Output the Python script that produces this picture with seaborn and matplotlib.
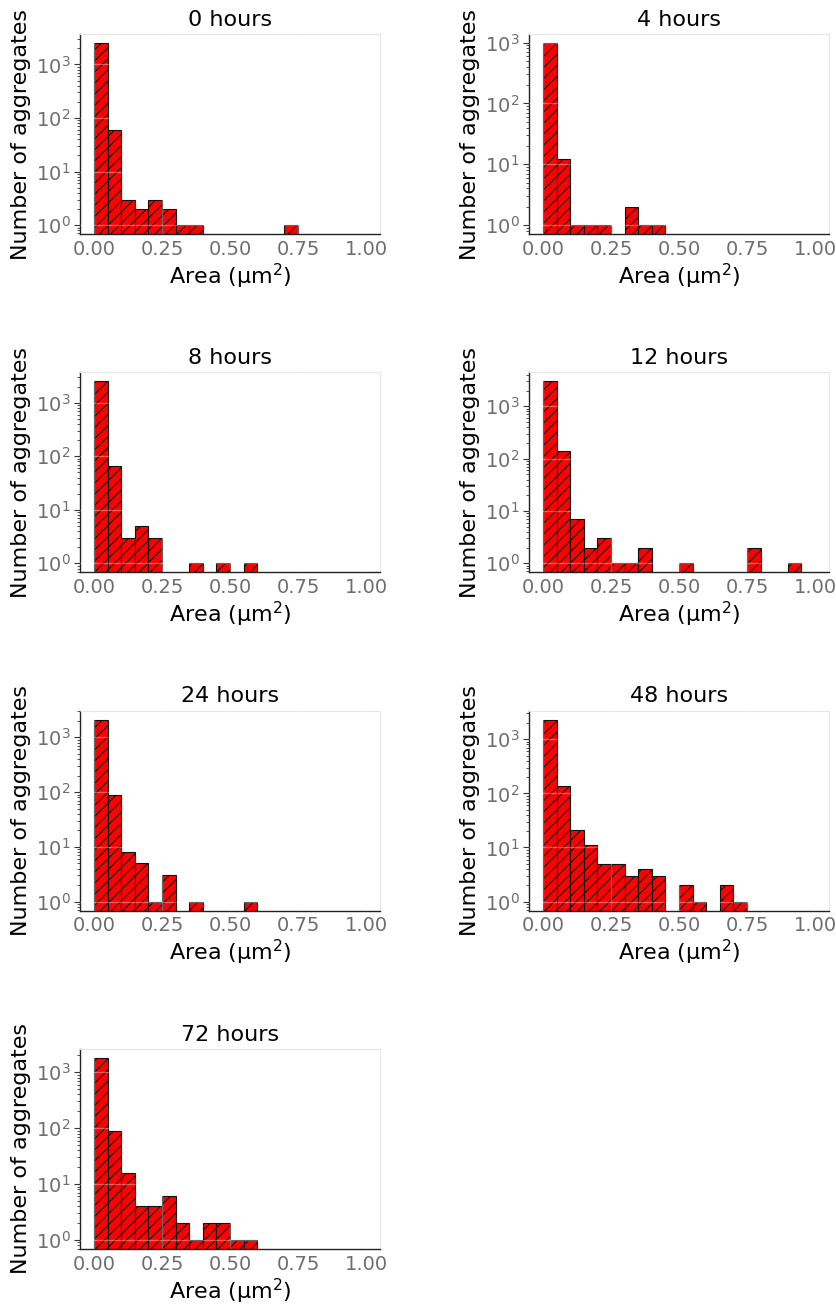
import numpy as np
import pandas as pd
import matplotlib
matplotlib.use("Agg")
import matplotlib.pyplot as plt
import seaborn as sns

sns.set_style("white")
plt.rcParams['font.family'] = ['DejaVu Sans']
plt.rcParams['hatch.linewidth'] = 0.8

bin_edges = [i * 0.05 for i in range(21)]
titles = ["0 hours", "4 hours", "8 hours", "12 hours", "24 hours", "48 hours", "72 hours"]

counts_0h = [2500, 59, 3, 2, 3, 2, 1, 1, 0, 0, 0, 0, 0, 0, 1, 0, 0, 0, 0, 0]
counts_4h = [980, 12, 1, 1, 1, 0, 2, 1, 1, 0, 0, 0, 0, 0, 0, 0, 0, 0, 0, 0]
counts_8h = [2500, 67, 3, 5, 3, 0, 0, 1, 0, 1, 0, 1, 0, 0, 0, 0, 0, 0, 0, 0]
counts_12h = [3000, 140, 7, 2, 3, 1, 1, 2, 0, 0, 1, 0, 0, 0, 0, 2, 0, 0, 1, 0]
counts_24h = [2100, 90, 8, 5, 1, 3, 0, 1, 0, 0, 0, 1, 0, 0, 0, 0, 0, 0, 0, 0]
counts_48h = [2300, 135, 21, 11, 5, 5, 3, 4, 3, 0, 2, 1, 0, 2, 1, 0, 0, 0, 0, 0]
counts_72h = [1800, 90, 16, 4, 4, 6, 2, 1, 2, 2, 1, 1, 0, 0, 0, 0, 0, 0, 0, 0]

all_counts = [counts_0h, counts_4h, counts_8h, counts_12h, counts_24h, counts_48h, counts_72h]

fig, axes = plt.subplots(4, 2, figsize=(8.37, 13.06), dpi=100)
fig.subplots_adjust(left=80/837, right=829/837, top=1-34/1306, bottom=1-1249/1306,
                    wspace=0.497, hspace=0.69)

centers = [(bin_edges[i] + bin_edges[i + 1]) / 2 for i in range(20)]

for idx, (title, counts) in enumerate(zip(titles, all_counts)):
    ax = axes.flat[idx]
    df = pd.DataFrame({"area": centers, "n": counts})
    sns.histplot(data=df, x="area", weights="n", bins=bin_edges, ax=ax,
                 color="red", edgecolor="#111111", linewidth=0.8, alpha=1.0)
    for p in ax.patches:
        p.set_hatch("///")
    ax.set_yscale("log")
    ax.set_xlim(-0.0515, 1.0515)
    ax.set_title(title, fontsize=16, pad=6, color="black")
    ax.set_xlabel("Area (\u00b5m$^2$)", fontsize=16, color="black", labelpad=2)
    ax.set_ylabel("Number of aggregates", fontsize=16, color="black", labelpad=3)
    ax.set_xticks([0, 0.25, 0.5, 0.75, 1.0])
    ax.set_xticklabels(["0.00", "0.25", "0.50", "0.75", "1.00"])
    ax.tick_params(axis="x", labelsize=14, labelcolor="#6e6e6e", length=0, pad=4)
    ax.tick_params(axis="y", which="major", labelsize=14, labelcolor="#6e6e6e",
                   left=True, length=4, width=0.8, color="#333333", pad=3)
    ax.tick_params(axis="y", which="minor", left=True, length=2, width=0.6, color="#333333")
    for s in ["left", "bottom"]:
        ax.spines[s].set_color("#222222")
        ax.spines[s].set_linewidth(1.0)
    for s in ["top", "right"]:
        ax.spines[s].set_color("#e6e6e6")
        ax.spines[s].set_linewidth(0.8)
    ax.grid(True, which="major", color="white", alpha=0.35, linewidth=1)
    ax.set_axisbelow(False)

axes.flat[7].remove()

fig.savefig("out.png", dpi=100)
